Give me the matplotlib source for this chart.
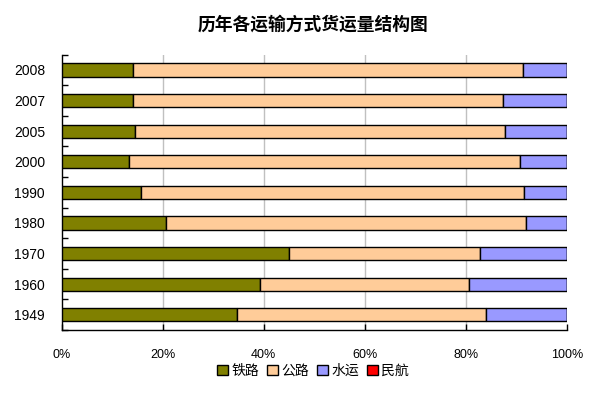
import matplotlib.pyplot as plt
import numpy as np

plt.rcParams['font.family'] = ['Noto Sans CJK SC', 'DejaVu Sans']

years = ['1949', '1960', '1970', '1980', '1990', '2000', '2005', '2007', '2008']
# 各运输方式货运量占比 (%)
tielu = [34.8, 39.3, 45.1, 20.7, 15.8, 13.3, 14.6, 14.1, 14.1]
gonglu = [49.3, 41.4, 37.8, 71.3, 75.8, 77.5, 73.2, 73.2, 77.3]
shuiyun = [15.9, 19.3, 17.1, 8.0, 8.4, 9.2, 12.2, 12.7, 8.6]
minhang = [0.0, 0.0, 0.0, 0.0, 0.0, 0.0, 0.0, 0.01, 0.01]

names = ['铁路', '公路', '水运', '民航']
colors = ['#808000', '#FFCC99', '#9999FF', '#FF0000']

fig = plt.figure(figsize=(6.08, 3.94), dpi=100)
ax = fig.add_axes([61.7/608, 1-330/394, 505/608, 275.3/394])

y = np.arange(len(years))
left = np.zeros(len(years))
for vals, name, c in zip([tielu, gonglu, shuiyun, minhang], names, colors):
    vals = np.array(vals)
    ax.barh(y, vals, left=left, height=0.43, color=c, edgecolor='black',
            linewidth=1.0, label=name, zorder=3)
    left = left + vals

ax.set_xlim(0, 100)
ax.set_ylim(-0.5, len(years) - 0.5)
ax.set_xticks([0, 20, 40, 60, 80, 100])
ax.set_xticklabels(['0%', '20%', '40%', '60%', '80%', '100%'],
                   fontsize=9, family='Liberation Sans')
ax.set_yticks(y)
ax.set_yticklabels(years, fontsize=10, family='Liberation Sans')
ax.set_yticks(np.arange(-0.5, len(years), 1), minor=True)
ax.tick_params(axis='y', which='major', length=0, pad=12)
ax.tick_params(axis='y', which='minor', direction='in', length=4, width=1)
ax.tick_params(axis='x', direction='in', length=4, width=1, pad=14)

for x in [20, 40, 60, 80]:
    ax.axvline(x, color='#c0c0c0', linewidth=1, zorder=1)

ax.spines['top'].set_visible(False)
ax.spines['right'].set_visible(False)
ax.spines['left'].set_linewidth(1)
ax.spines['bottom'].set_linewidth(1)

fig.text(313/608, 1-25/394, '历年各运输方式货运量结构图', ha='center', va='center',
         fontsize=12.8, fontweight='bold')

fig.legend(loc='center', bbox_to_anchor=(313/608, 1-371/394), ncol=4, frameon=False,
           fontsize=10, handlelength=0.8, handleheight=0.8, handletextpad=0.2,
           columnspacing=0.6, borderpad=0)

plt.savefig('out.png', dpi=100)
